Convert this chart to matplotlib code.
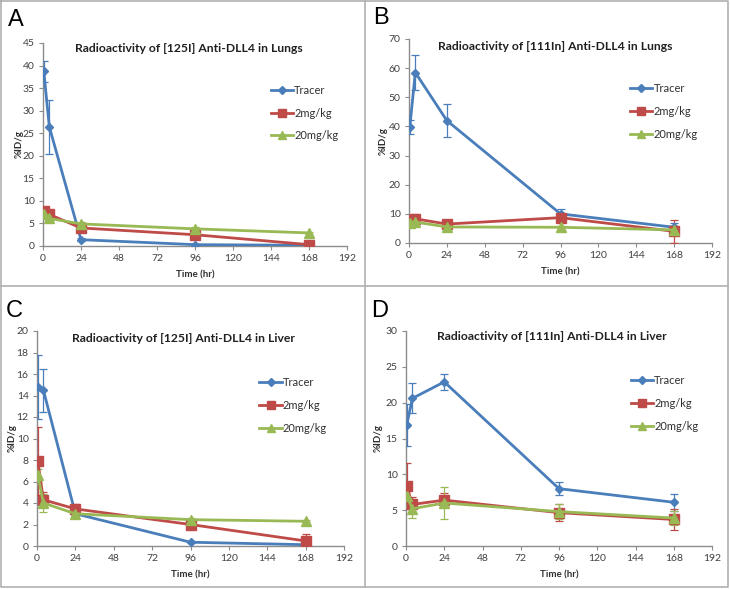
import matplotlib
matplotlib.use("Agg")
import matplotlib.pyplot as plt
from matplotlib.lines import Line2D

plt.rcParams["font.family"] = ["Lato", "DejaVu Sans"]

timeHours = [0.5, 4, 24, 96, 168]
xTicks = [0, 24, 48, 72, 96, 120, 144, 168, 192]
seriesNames = ["Tracer", "2mg/kg", "20mg/kg"]

# panel A: [125I] lungs
lungs125Tracer = [38.7, 26.4, 1.4, 0.3, 0.15]
lungs125TracerErr = [2.4, 6.0, 0.3, 0.1, 0.1]
lungs125Low = [7.7, 7.0, 4.0, 2.5, 0.3]
lungs125LowErr = [1.0, 0.8, 0.6, 0.5, 0.2]
lungs125High = [7.0, 6.1, 4.9, 3.8, 2.9]
lungs125HighErr = [0.8, 0.7, 0.4, 0.5, 0.3]

# panel B: [111In] lungs
lungs111Tracer = [39.8, 58.5, 42.0, 10.0, 5.4]
lungs111TracerErr = [2.4, 6.0, 5.6, 1.5, 1.5]
lungs111Low = [8.0, 8.3, 6.5, 8.7, 4.0]
lungs111LowErr = [1.2, 1.5, 0.8, 1.0, 4.0]
lungs111High = [7.0, 7.2, 5.5, 5.4, 4.5]
lungs111HighErr = [1.0, 1.5, 0.6, 0.6, 1.0]

# panel C: [125I] liver
liver125Tracer = [14.8, 14.5, 3.0, 0.35, 0.12]
liver125TracerErr = [3.0, 2.0, 0.3, 0.1, 0.1]
liver125Low = [7.9, 4.3, 3.45, 2.0, 0.47]
liver125LowErr = [3.2, 0.7, 0.5, 0.3, 0.6]
liver125High = [6.6, 4.0, 3.0, 2.45, 2.3]
liver125HighErr = [0.6, 0.8, 0.2, 0.2, 0.1]

# panel D: [111In] liver
liver111Tracer = [16.9, 20.6, 22.9, 8.0, 6.1]
liver111TracerErr = [2.9, 2.1, 1.1, 0.9, 1.2]
liver111Low = [8.4, 5.8, 6.4, 4.65, 3.7]
liver111LowErr = [3.2, 1.0, 1.0, 1.2, 1.4]
liver111High = [7.0, 5.2, 6.0, 4.8, 3.9]
liver111HighErr = [1.5, 1.3, 2.2, 1.0, 1.0]

blueColor = "#4a7ebb"
redColor = "#be4b48"
greenColor = "#98b954"
seriesColors = [blueColor, redColor, greenColor]
seriesMarkers = ["D", "s", "^"]
markerSizes = [4.5, 6.5, 6.5]

panels = [
    {
        "letter": "A",
        "title": "Radioactivity of [125I] Anti-DLL4 in Lungs",
        "rect": [43 / 730, 1 - 246 / 589, 304 / 730, 203 / 589],
        "ymax": 45, "ystep": 5,
        "series": [(lungs125Tracer, lungs125TracerErr), (lungs125Low, lungs125LowErr), (lungs125High, lungs125HighErr)],
        "titlePos": (189 / 730, 1 - 48 / 589),
        "letterPos": (8 / 730, 1 - 20 / 589),
        "legendPos": (0.735, 0.815),
        "ylabelX": -0.065,
    },
    {
        "letter": "B",
        "title": "Radioactivity of [111In] Anti-DLL4 in Lungs",
        "rect": [409 / 730, 1 - 243 / 589, 303 / 730, 204 / 589],
        "ymax": 70, "ystep": 10,
        "series": [(lungs111Tracer, lungs111TracerErr), (lungs111Low, lungs111LowErr), (lungs111High, lungs111HighErr)],
        "titlePos": (555 / 730, 1 - 47 / 589),
        "letterPos": (373 / 730, 1 - 18 / 589),
        "legendPos": (0.715, 0.805),
        "ylabelX": -0.07,
    },
    {
        "letter": "C",
        "title": "Radioactivity of [125I] Anti-DLL4 in Liver",
        "rect": [37 / 730, 1 - 546 / 589, 307 / 730, 215 / 589],
        "ymax": 20, "ystep": 2,
        "series": [(liver125Tracer, liver125TracerErr), (liver125Low, liver125LowErr), (liver125High, liver125HighErr)],
        "titlePos": (184 / 730, 1 - 339 / 589),
        "letterPos": (6 / 730, 1 - 311 / 589),
        "legendPos": (0.71, 0.805),
        "ylabelX": -0.065,
    },
    {
        "letter": "D",
        "title": "Radioactivity of [111In] Anti-DLL4 in Liver",
        "rect": [406 / 730, 1 - 546 / 589, 306 / 730, 215 / 589],
        "ymax": 30, "ystep": 5,
        "series": [(liver111Tracer, liver111TracerErr), (liver111Low, liver111LowErr), (liver111High, liver111HighErr)],
        "titlePos": (552 / 730, 1 - 337 / 589),
        "letterPos": (371 / 730, 1 - 311 / 589),
        "legendPos": (0.72, 0.815),
        "ylabelX": -0.075,
    },
]

fig = plt.figure(figsize=(7.3, 5.89), dpi=100)
frameColor = "#b0b0b0"
fig.add_artist(Line2D([1 / 730, 728 / 730, 728 / 730, 1 / 730, 1 / 730],
                      [1 - 1 / 589, 1 - 1 / 589, 1 - 587 / 589, 1 - 587 / 589, 1 - 1 / 589],
                      color=frameColor, linewidth=1.2, transform=fig.transFigure))
fig.add_artist(Line2D([365 / 730, 365 / 730], [1 - 1 / 589, 1 - 587 / 589],
                      color=frameColor, linewidth=1.2, transform=fig.transFigure))
fig.add_artist(Line2D([1 / 730, 728 / 730], [1 - 286 / 589, 1 - 286 / 589],
                      color=frameColor, linewidth=1.2, transform=fig.transFigure))

legendHandles = [
    Line2D([], [], color=color, marker=marker, markersize=msize * 0.85, linewidth=2.0)
    for color, marker, msize in zip(seriesColors, seriesMarkers, markerSizes)
]

for panel in panels:
    ax = fig.add_axes(panel["rect"])
    for (values, errors), name, color, marker, msize in zip(panel["series"], seriesNames, seriesColors, seriesMarkers, markerSizes):
        ax.errorbar(timeHours, values, yerr=errors, color=color, ecolor=color, elinewidth=0.9,
                    capsize=3, capthick=0.9, linewidth=2.0, marker=marker, markersize=msize,
                    label=name, zorder=3)
    ax.set_xlim(0, 192)
    ax.set_ylim(0, panel["ymax"])
    ax.set_xticks(xTicks)
    ax.set_yticks(range(0, panel["ymax"] + 1, panel["ystep"]))
    for side in ["top", "right"]:
        ax.spines[side].set_visible(False)
    for side in ["left", "bottom"]:
        ax.spines[side].set_color("#8c8c8c")
        ax.spines[side].set_linewidth(1.0)
    ax.tick_params(axis="both", direction="out", length=3, width=0.8, color="#8c8c8c",
                   labelsize=7.5, labelcolor="#404040", pad=3)
    ax.set_xlabel("Time (hr)", fontsize=7, fontweight="bold", color="#303030", labelpad=5)
    ax.set_ylabel("%ID/g", fontsize=7, fontweight="bold", color="#303030")
    ax.yaxis.set_label_coords(panel["ylabelX"], 0.5)
    legend = ax.legend(legendHandles, seriesNames, loc="upper left", bbox_to_anchor=panel["legendPos"],
                       frameon=False, fontsize=8, handlelength=2.0, handletextpad=0.1,
                       labelspacing=1.05, borderaxespad=0)
    for text in legend.get_texts():
        text.set_color("#303030")
    fig.text(panel["titlePos"][0], panel["titlePos"][1], panel["title"], ha="center", va="center",
             fontsize=8.7, fontweight="bold", color="#202020")
    fig.text(panel["letterPos"][0], panel["letterPos"][1], panel["letter"], ha="left", va="center",
             fontsize=17, color="black", family=["Liberation Sans", "DejaVu Sans"])

fig.savefig("out.png", dpi=100)
